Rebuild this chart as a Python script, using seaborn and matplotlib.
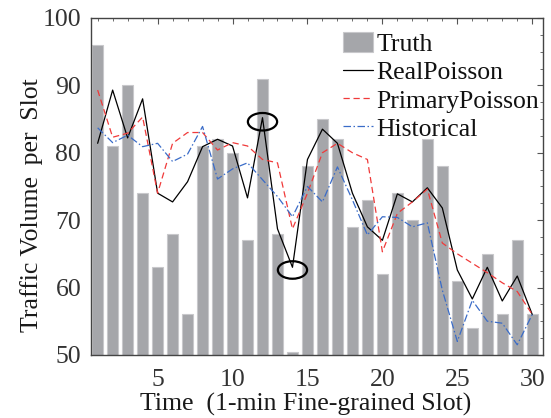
import numpy as np
import pandas as pd
import seaborn as sns
import matplotlib
matplotlib.use("Agg")
import matplotlib.pyplot as plt
from matplotlib.patches import Ellipse
from matplotlib.ticker import MultipleLocator

# ---- data ----
slots = list(range(1, 31))
truth = [96, 81, 90, 74, 63, 68, 56, 81, 82, 80,
         67, 91, 68, 50.5, 78, 85, 82, 69, 73, 62,
         74, 70, 82, 78, 61, 54, 65, 56, 67, 56]
real_poisson = [81.4, 89.3, 82.2, 88, 74, 72.7, 75.7, 80.9, 82, 81,
                73.3, 85.2, 68.7, 63, 79, 83.5, 81.4, 74, 69, 67,
                73.9, 72.7, 74.8, 71.8, 62.6, 58.3, 63, 58, 61.7, 56]
primary_poisson = [89.3, 82.3, 82.9, 85.3, 74, 81.4, 83, 83, 80.4, 81.5,
                   81, 79, 78.5, 68.7, 74, 80, 81.4, 80, 79, 65.3,
                   71, 72.7, 74.6, 66.6, 65, 63.6, 62.2, 60.7, 59.4, 56]
historical = [83.7, 81.5, 82.6, 80.9, 81.4, 78.7, 79.8, 83.9, 76.1, 77.6,
              78.5, 76, 73.5, 70.5, 75, 72.7, 77.9, 73, 67.8, 70.5,
              70.4, 69, 69.6, 59.6, 52, 58.1, 55, 54.7, 51.5, 56]
xticks = [5, 10, 15, 20, 25, 30]
yticks = [50, 60, 70, 80, 90, 100]
# highlighted points (slot, value)
highlight_x = [12, 14]
highlight_y = [84.6, 62.6]

sns.set_theme(style="white")
plt.rcParams['font.family'] = ['Liberation Serif', 'DejaVu Serif']

FS = 18.5
fig = plt.figure(figsize=(5.51, 4.18), dpi=100)
ax = fig.add_axes([0.165, 0.151, 0.820, 0.806])

df = pd.DataFrame({"slot": slots, "truth": truth, "real": real_poisson,
                   "primary": primary_poisson, "hist": historical})

sns.barplot(data=df, x="slot", y="truth", native_scale=True, width=0.76,
            color="#a5a6aa", saturation=1, edgecolor="#c8c8cb", linewidth=0.8,
            label="Truth", ax=ax, zorder=1)
sns.lineplot(data=df, x="slot", y="real", color="black", lw=0.9,
             label="RealPoisson", ax=ax, zorder=3)
sns.lineplot(data=df, x="slot", y="primary", color="#f03a3a", lw=0.9,
             label="PrimaryPoisson", ax=ax, zorder=3)
ax.lines[-1].set_linestyle((0, (5, 3)))
sns.lineplot(data=df, x="slot", y="hist", color="#3a6cc8", lw=0.9,
             label="Historical", ax=ax, zorder=3)
ax.lines[-1].set_linestyle((0, (6, 2, 1.2, 2)))

for hx, hy in zip(highlight_x, highlight_y):
    ax.add_patch(Ellipse((hx, hy), width=1.95, height=2.6, fill=False,
                         edgecolor="black", lw=1.6, zorder=5))

ax.set_xlim(0.55, 30.7)
ax.set_ylim(50, 100)
ax.set_xticks(xticks)
ax.set_yticks(yticks)
ax.xaxis.set_minor_locator(MultipleLocator(1))
ax.yaxis.set_minor_locator(MultipleLocator(2.5))
ax.tick_params(which="both", direction="in", top=True, right=True,
               color="#555555", labelsize=FS, labelcolor="#333333")
ax.tick_params(axis="x", which="major", pad=10)
ax.tick_params(axis="y", which="major", pad=7)
ax.tick_params(which="major", length=4, width=0.8)
ax.tick_params(which="minor", length=2.5, width=0.6)
for s in ax.spines.values():
    s.set_color("#444444")
    s.set_linewidth(1.0)

ax.set_xlabel("Time\u2002(1-min Fine-grained Slot)", fontsize=FS, color="#1a1a1a")
ax.set_ylabel("Traffic Volume\u2009 per\u2009 Slot", fontsize=FS, color="#1a1a1a")
ax.xaxis.set_label_coords(0.476, -0.114)
ax.yaxis.set_label_coords(-0.106, 0.445)

handles, labels = ax.get_legend_handles_labels()
order = [labels.index(n) for n in ["Truth", "RealPoisson", "PrimaryPoisson", "Historical"]]
leg = ax.legend([handles[i] for i in order], [labels[i] for i in order],
                loc="upper right", bbox_to_anchor=(1.0155, 0.988), frameon=False,
                fontsize=FS, handlelength=1.17, handleheight=0.8, handletextpad=0.15,
                labelspacing=0.175, borderaxespad=0.15, borderpad=0.25)
for t in leg.get_texts():
    t.set_color("#111111")

fig.savefig("out.png", dpi=100)
